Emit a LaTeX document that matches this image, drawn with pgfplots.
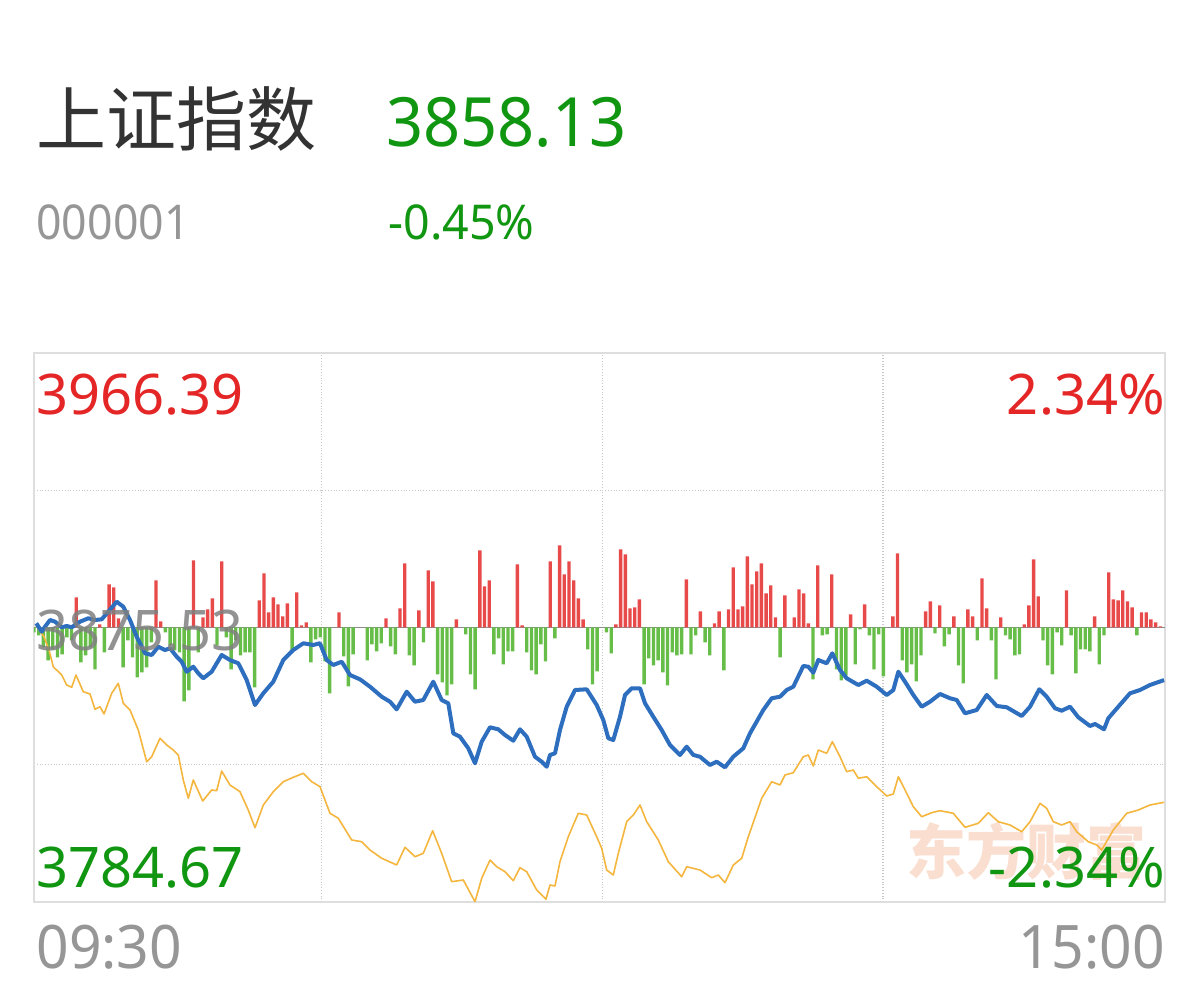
\documentclass[border=0pt]{standalone}
\usepackage{pgfplots}
\pgfplotsset{compat=1.18}
\usepackage{pgfplotstable}
\usepackage{fontspec}
\setmainfont{Noto Sans}
\newfontfamily\cjk{Noto Sans CJK SC}
\definecolor{upred}{RGB}{228,38,38}
\definecolor{dngreen}{RGB}{16,150,16}
\definecolor{lblgray}{RGB}{150,150,150}
\definecolor{ttlgray}{RGB}{51,51,51}
\definecolor{barred}{RGB}{232,74,74}
\definecolor{bargreen}{RGB}{102,190,72}
\definecolor{pblue}{RGB}{46,110,190}
\definecolor{pyellow}{RGB}{244,182,62}
\definecolor{wmark}{RGB}{250,222,208}

\pgfplotstableread{
i v
0 -5
1 -8
2 -20
3 -33
4 -22
5 -30
6 -27
7 -10
8 -13
9 30
10 -35
11 -28
12 -20
13 -42
14 3
15 -25
16 43
17 40
18 9
19 -40
20 -13
21 -30
22 -50
23 -45
24 -40
25 -15
26 47
27 6
28 -5
29 -18
30 -23
31 -25
32 -74
33 -63
34 67
35 -25
36 10
37 18
38 29
39 -18
40 66
41 -10
42 -42
43 -13
44 -28
45 -25
46 -25
47 -60
48 27
49 54
50 15
51 30
52 23
53 11
54 24
55 -25
56 35
57 2
58 5
59 -35
60 -12
61 -10
62 -34
63 -66
64 0
65 15
66 -29
67 -59
68 -27
69 0
70 0
71 -33
72 -17
73 -24
74 -16
75 9
76 -19
77 -27
78 19
79 64
80 -28
81 -38
82 17
83 -15
84 57
85 46
86 -47
87 -55
88 -68
89 -57
90 8
91 0
92 -7
93 -47
94 -62
95 77
96 41
97 47
98 -27
99 -11
100 -37
101 -24
102 -24
103 63
104 2
105 -25
106 -43
107 -47
108 -17
109 -34
110 66
111 -11
112 82
113 53
114 66
115 47
116 29
117 8
118 -22
119 -57
120 -44
121 0
122 -5
123 -26
124 3
125 78
126 73
127 19
128 20
129 28
130 -57
131 -31
132 -38
133 -33
134 -45
135 -58
136 -25
137 -28
138 -27
139 48
140 -27
141 -8
142 16
143 -15
144 -28
145 4
146 16
147 -43
148 18
149 60
150 18
151 21
152 71
153 43
154 56
155 64
156 34
157 42
158 10
159 -30
160 32
161 0
162 10
163 38
164 34
165 4
166 -52
167 62
168 -8
169 -7
170 53
171 -42
172 -53
173 -48
174 13
175 -37
176 -2
177 23
178 -8
179 -42
180 -7
181 -49
182 0
183 11
184 74
185 -33
186 -45
187 -37
188 -54
189 -28
190 16
191 26
192 -6
193 22
194 -19
195 -7
196 11
197 -38
198 -56
199 18
200 11
201 -13
202 49
203 19
204 -13
205 -52
206 10
207 -8
208 -12
209 -28
210 -27
211 3
212 22
213 68
214 31
215 -13
216 -38
217 -47
218 -5
219 -18
220 37
221 -8
222 -46
223 -22
224 -22
225 -24
226 11
227 -37
228 -8
229 55
230 28
231 27
232 37
233 26
234 20
235 -8
236 15
237 15
238 8
239 5
240 1
}\vol

\pgfplotstableread{
t p
0 3876.92
1.14 3874.14
1.84 3875.79
2.91 3878.01
3.98 3877.45
5.40 3875.60
6.47 3876.03
7.53 3875.60
9.30 3877.45
11.07 3878.58
12.50 3878.01
13.93 3878.24
15.33 3880.76
17.12 3884.07
18.53 3882.41
19.96 3878.01
21.38 3872.48
23.15 3866.99
24.58 3866.43
25.99 3869.17
27.41 3868.08
28.48 3868.65
29.91 3865.86
30.97 3864.21
32.04 3860.90
33.44 3862.55
34.51 3860.37
35.57 3858.72
37.36 3860.90
39.49 3866.43
41.26 3864.77
43.03 3863.68
44.82 3858.15
46.59 3849.88
48.36 3853.75
50.49 3857.59
52.62 3864.77
54.75 3868.08
56.88 3870.30
59.01 3869.74
60.44 3870.30
61.87 3864.77
63.28 3863.12
65.07 3864.21
66.83 3859.81
68.96 3858.38
71.10 3855.93
73.59 3852.62
75.36 3850.97
76.78 3848.45
78.92 3854.28
80.68 3850.97
82.45 3851.53
84.58 3857.59
86.37 3851.53
87.78 3850.44
88.85 3840.51
90.27 3839.38
92.04 3835.55
93.47 3830.58
94.90 3837.73
96.67 3842.50
98.43 3841.83
99.86 3839.95
101.63 3838.06
103.06 3841.83
104.49 3839.38
106.25 3832.76
107.68 3831.11
108.75 3829.45
109.45 3833.33
110.52 3833.89
111.58 3841.60
113.01 3849.31
114.78 3854.84
117.27 3855.07
119.40 3849.88
120.81 3844.91
121.88 3838.86
122.94 3838.29
124.37 3846.00
125.44 3853.19
126.86 3855.41
128.63 3855.41
129.70 3850.44
131.46 3846.00
133.25 3841.60
135.02 3836.64
137.15 3833.33
138.58 3836.07
139.99 3833.33
141.41 3832.76
143.54 3830.02
144.97 3831.11
146.74 3829.26
148.51 3832.76
150.64 3835.55
152.07 3840.51
154.90 3848.22
156.69 3852.10
158.46 3852.62
159.89 3854.84
161.30 3855.93
163.43 3862.79
164.49 3862.55
165.56 3860.57
166.62 3864.77
168.41 3863.68
169.61 3866.99
171.25 3861.46
172.67 3858.72
175.15 3856.50
176.94 3857.92
179.07 3855.93
181.20 3853.19
182.61 3854.84
183.68 3860.90
185.10 3857.59
186.87 3853.19
188.66 3849.31
190.43 3850.97
192.56 3853.52
194.69 3852.10
196.12 3851.53
197.89 3847.13
200.38 3848.22
202.51 3853.19
204.65 3849.55
206.77 3849.12
209.97 3846.24
211.74 3849.31
213.71 3855.07
215.29 3852.62
217.06 3848.79
218.49 3847.99
220.26 3849.31
222.03 3845.81
224.52 3842.93
225.59 3843.59
227.50 3841.83
228.42 3845.48
230.55 3849.31
233.04 3853.75
235.17 3854.84
237.30 3856.50
240.30 3858.13
}\price

\pgfplotstableread{
t p
0 3876.03
1.63 3872.48
2.70 3868.08
3.61 3862.55
5.40 3859.81
6.47 3856.50
7.53 3855.74
8.45 3859.81
10.00 3854.28
11.43 3853.52
12.50 3848.45
13.56 3849.31
14.42 3846.90
16.06 3853.75
17.46 3857.06
18.53 3850.44
19.96 3848.22
21.72 3841.60
23.51 3831.11
24.58 3832.76
26.35 3838.86
27.78 3836.64
29.18 3834.98
30.25 3833.33
31.31 3825.05
32.38 3819.00
33.44 3825.05
35.45 3818.10
37.36 3821.74
38.43 3821.51
39.49 3828.03
41.26 3823.40
43.39 3821.18
45.16 3815.12
46.59 3809.26
48.36 3816.77
50.49 3821.18
52.62 3824.49
54.75 3825.95
56.88 3827.27
58.67 3824.49
60.44 3822.83
62.57 3814.03
64.34 3812.38
67.20 3805.19
69.33 3804.63
71.10 3801.88
73.59 3799.14
76.78 3796.92
78.56 3802.78
80.69 3799.66
82.45 3800.79
84.45 3808.27
86.37 3800.79
88.50 3791.39
90.98 3791.95
93.47 3784.77
94.90 3792.52
96.67 3798.57
98.09 3796.35
99.86 3794.70
101.63 3791.72
103.06 3796.02
104.49 3794.70
106.62 3788.64
108.59 3785.56
109.45 3790.30
110.52 3789.97
111.58 3798.01
113.35 3806.28
115.48 3814.03
117.27 3813.47
119.40 3806.28
120.47 3802.45
121.53 3795.26
122.94 3793.61
124.01 3800.79
125.79 3811.25
127.20 3813.47
128.63 3816.78
130.06 3811.25
132.53 3805.19
134.66 3798.01
137.52 3793.04
138.58 3796.35
141.41 3795.26
143.91 3792.71
145.31 3793.61
146.74 3791.06
148.51 3796.92
150.30 3799.14
151.71 3806.28
154.56 3819.00
156.69 3824.49
158.46 3823.40
159.53 3826.71
161.30 3827.47
163.43 3832.76
164.49 3833.33
165.56 3829.69
166.62 3834.98
168.41 3833.89
169.61 3837.73
171.25 3832.76
172.67 3827.80
174.08 3828.36
175.15 3825.62
176.94 3826.14
179.07 3822.83
181.20 3819.76
182.61 3820.42
183.68 3826.14
185.46 3820.65
186.87 3816.21
188.66 3812.90
190.79 3814.23
192.56 3814.89
195.39 3814.03
197.89 3809.40
200.72 3810.72
202.85 3814.23
204.98 3811.25
207.47 3810.16
209.97 3807.94
211.74 3811.25
213.87 3817.34
215.29 3815.68
216.70 3811.25
218.49 3810.16
220.26 3811.25
221.68 3807.94
224.16 3804.63
225.95 3803.54
227.01 3801.88
229.48 3808.50
232.34 3814.03
234.81 3815.12
237.30 3816.78
240.30 3817.67
}\avgline

\begin{document}
\begin{tikzpicture}
\useasboundingbox (0,0) rectangle (600pt,493pt);
\fill[white] (0,0) rectangle (600pt,493pt);

% watermark
\node[anchor=center, inner sep=0, text=wmark, font=\cjk\bfseries\fontsize{30pt}{34pt}\selectfont] at (513pt,67.5pt) {东方财富};

% volume bars, frame and grid
\begin{axis}[
  at={(17pt,42pt)}, anchor=south west,
  width=565.5pt, height=274.5pt, scale only axis,
  xmin=0, xmax=241, ymin=-274.5, ymax=274.5,
  xtick={61.3,121.2,180.9}, ytick={-137.25,137.25},
  xticklabels={}, yticklabels={},
  major tick length=0pt,
  grid=major,
  major grid style={densely dotted, draw=black!22, line width=0.6pt},
  axis line style={draw=black!13, line width=0.8pt},
]
\addplot[draw=black!45, line width=0.5pt] coordinates {(0,0) (241,0)};
\addplot[ybar, bar width=0.72, bar shift=0pt, fill=barred, draw=none,
  restrict y to domain=0.5:400] table[x=i,y=v] {\vol};
\addplot[ybar, bar width=0.72, bar shift=0pt, fill=bargreen, draw=none,
  restrict y to domain=-400:-0.5] table[x=i,y=v] {\vol};
\end{axis}

% price lines
\begin{axis}[
  at={(17pt,42pt)}, anchor=south west,
  width=565.5pt, height=274.5pt, scale only axis,
  xmin=-0.5, xmax=240.5, ymin=3784.67, ymax=3966.39,
  axis lines=none, ticks=none,
]
\addplot[pyellow, line width=0.8pt, line join=round] table[x=t,y=p] {\avgline};
\addplot[pblue, line width=2pt, line join=round] table[x=t,y=p] {\price};
\end{axis}

% header
\node[anchor=base west, inner sep=0, text=ttlgray, font=\cjk\fontsize{35pt}{40pt}\selectfont] at (18pt,420pt) {上证指数};
\node[anchor=base west, inner sep=0, text=dngreen, font=\fontsize{34pt}{40pt}\selectfont] at (193pt,419.5pt) {\scalebox{0.955}[1]{3858.13}};
\node[anchor=base west, inner sep=0, text=lblgray, font=\fontsize{24pt}{28pt}\selectfont] at (18pt,373pt) {\scalebox{0.93}[1]{000001}};
\node[anchor=base west, inner sep=0, text=dngreen, font=\fontsize{24pt}{28pt}\selectfont] at (194pt,373pt) {\scalebox{0.97}[1]{-0.45\%}};

% chart labels
\node[anchor=base west, inner sep=0, text=upred, font=\fontsize{28pt}{32pt}\selectfont] at (18pt,285.5pt) {3966.39};
\node[anchor=base east, inner sep=0, text=upred, font=\fontsize{28pt}{32pt}\selectfont] at (582.5pt,285.5pt) {2.34\%};
\node[anchor=base west, inner sep=0, text=black!50, opacity=0.85, font=\fontsize{28pt}{32pt}\selectfont] at (18pt,167.5pt) {3875.53};
\node[anchor=base west, inner sep=0, text=dngreen, font=\fontsize{28pt}{32pt}\selectfont] at (18pt,49pt) {3784.67};
\node[anchor=base east, inner sep=0, text=dngreen, font=\fontsize{28pt}{32pt}\selectfont] at (582.5pt,49pt) {-2.34\%};
\node[anchor=base west, inner sep=0, text=lblgray, font=\fontsize{30pt}{34pt}\selectfont] at (18pt,9pt) {\scalebox{0.95}[1]{09:30}};
\node[anchor=base east, inner sep=0, text=lblgray, font=\fontsize{30pt}{34pt}\selectfont] at (582.5pt,9pt) {\scalebox{0.95}[1]{15:00}};
\end{tikzpicture}
\end{document}
